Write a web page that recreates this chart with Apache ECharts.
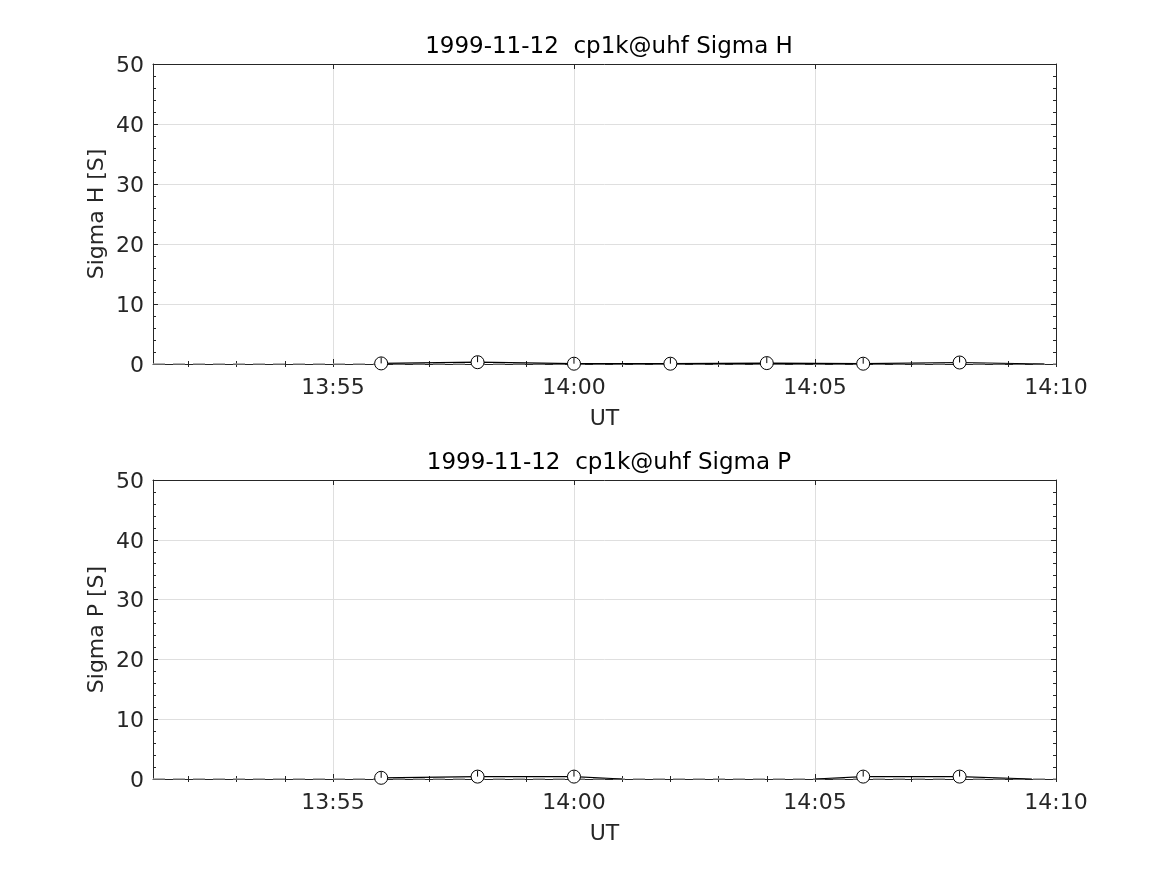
<!DOCTYPE html>
<html>
<head>
<meta charset="utf-8">
<script src="https://cdn.jsdelivr.net/npm/echarts@6/dist/echarts.min.js"></script>
<style>
html,body{margin:0;padding:0;background:#fff;}
#c{width:1167px;height:875px;}
</style>
</head>
<body>
<div id="c"></div>
<script>
// ---- data ----
var dateStr = '1999-11-12';
var xStart = '13:51:16';
var xEnd = '14:10';
var majorTickLabels = ['13:55', '14:00', '14:05', '14:10'];
var minorTickTimes = ['13:52','13:53','13:54','13:55','13:56','13:57','13:58','13:59','14:00','14:01','14:02','14:03','14:04','14:05','14:06','14:07','14:08','14:09','14:10'];
var yTicks = [0, 10, 20, 30, 40, 50];

// Sigma H
var timesH = ['13:56', '13:58', '14:00', '14:02', '14:04', '14:06', '14:08'];
var sigmaH = [0.1, 0.3, 0.05, 0.05, 0.15, 0.05, 0.25];
var errH = [1.0, 1.0, 1.0, 1.0, 1.0, 1.0, 1.0];
var lineTimesH = ['13:56', '13:58', '14:00', '14:02', '14:04', '14:06', '14:08', '14:09:45'];
var lineSigmaH = [0.1, 0.3, 0.05, 0.05, 0.15, 0.05, 0.25, 0];

// Sigma P
var timesP = ['13:56', '13:58', '14:00', '14:06', '14:08'];
var sigmaP = [0.2, 0.4, 0.4, 0.4, 0.4];
var errP = [1.0, 1.0, 1.0, 1.0, 1.0];
var lineTimesP = ['13:56', '13:58', '14:00', '14:01', '14:03', '14:05', '14:06', '14:08', '14:09:30'];
var lineSigmaP = [0.2, 0.4, 0.4, 0, null, 0, 0.4, 0.4, 0];

// ---- helpers ----
function toMin(s) {
  var p = s.split(':').map(Number);
  return p[0] * 60 + p[1] + (p[2] || 0) / 60;
}
function fmt(v) {
  var h = Math.floor(v / 60 + 1e-9), m = Math.round(v - h * 60);
  return h + ':' + (m < 10 ? '0' : '') + m;
}
var XMIN = toMin(xStart), XMAX = toMin(xEnd);
var majorVals = majorTickLabels.map(toMin);
var minorVals = minorTickTimes.map(toMin);

var FONT = 'DejaVu Sans';
var AX = '#262626';
var GRIDC = '#dfdfdf';

var grids = [
  {left: 153, right: 111, top: 64, height: 300},
  {left: 153, right: 111, top: 480, height: 299}
];

function xAxesFor(g) {
  var base = {type: 'value', gridIndex: g, min: XMIN, max: XMAX};
  return [
    Object.assign({}, base, {
      position: 'bottom',
      name: 'UT', nameLocation: 'middle', nameGap: 44,
      nameTextStyle: {fontFamily: FONT, fontSize: 22, color: AX},
      axisLine: {show: true, onZero: false, lineStyle: {color: AX, width: 1}},
      axisTick: {show: true, inside: true, length: 5, customValues: majorVals, lineStyle: {color: AX}},
      axisLabel: {show: true, customValues: majorVals, formatter: fmt, margin: 13,
        fontFamily: FONT, fontSize: 22, color: AX},
      splitLine: {show: true, lineStyle: {color: GRIDC, width: 1}}
    }),
    Object.assign({}, base, {
      position: 'bottom',
      axisLine: {show: false},
      axisTick: {show: true, inside: true, length: 3, customValues: minorVals, lineStyle: {color: AX}},
      axisLabel: {show: false},
      splitLine: {show: false}
    }),
    Object.assign({}, base, {
      position: 'top',
      axisLine: {show: true, onZero: false, lineStyle: {color: AX, width: 1}},
      axisTick: {show: true, inside: true, length: 5, customValues: majorVals, lineStyle: {color: AX}},
      axisLabel: {show: false},
      splitLine: {show: false}
    }),
    Object.assign({}, base, {
      position: 'top',
      axisLine: {show: false},
      axisTick: {show: true, inside: true, length: 3, customValues: minorVals, lineStyle: {color: AX}},
      axisLabel: {show: false},
      splitLine: {show: false}
    })
  ];
}

function yAxesFor(g, name) {
  var base = {type: 'value', gridIndex: g, min: yTicks[0], max: yTicks[yTicks.length - 1], interval: yTicks[1] - yTicks[0]};
  return [
    Object.assign({}, base, {
      position: 'left',
      name: name, nameLocation: 'middle', nameGap: 45, nameMoveOverlap: false,
      nameTextStyle: {fontFamily: FONT, fontSize: 22, color: AX},
      axisLine: {show: true, onZero: false, lineStyle: {color: AX}},
      axisTick: {show: true, inside: true, length: 5, lineStyle: {color: AX}},
      minorTick: {show: true, splitNumber: 5, length: 3, lineStyle: {color: AX}},
      axisLabel: {show: true, margin: 9, fontFamily: FONT, fontSize: 22, color: AX,
        formatter: function (v) { return '{a|' + v + '}'; },
        rich: {a: {fontFamily: FONT, fontSize: 22, color: AX, padding: [4, 0, 0, 0]}}},
      splitLine: {show: true, lineStyle: {color: GRIDC, width: 1}}
    }),
    Object.assign({}, base, {
      position: 'right',
      axisLine: {show: true, onZero: false, lineStyle: {color: AX}},
      axisTick: {show: true, inside: true, length: 5, lineStyle: {color: AX}},
      minorTick: {show: true, splitNumber: 5, length: 3, lineStyle: {color: AX}},
      axisLabel: {show: false},
      splitLine: {show: false}
    })
  ];
}

var xAxis = xAxesFor(0).concat(xAxesFor(1));
var yAxis = yAxesFor(0, 'Sigma H [S]').concat(yAxesFor(1, 'Sigma P [S]'));

function seriesFor(g, xi, yi, times, vals, errs, lTimes, lVals) {
  var pts = times.map(function (t, i) { return [toMin(t), vals[i]]; });
  var linePts = lTimes.map(function (t, i) { return [toMin(t), lVals[i]]; });
  var errPts = times.map(function (t, i) { return [toMin(t), vals[i], errs[i]]; });
  return [
    {
      type: 'line', xAxisIndex: xi, yAxisIndex: yi, silent: true,
      data: [[XMIN, 0], [XMAX, 0]], symbol: 'none',
      lineStyle: {color: '#9a9a9a', width: 1.5, type: [12, 8]}, z: 3
    },
    {
      type: 'line', xAxisIndex: xi, yAxisIndex: yi, silent: true,
      data: linePts, symbol: 'none', connectNulls: false,
      lineStyle: {color: '#000', width: 1.2}, z: 4
    },
    {
      type: 'scatter', xAxisIndex: xi, yAxisIndex: yi, silent: true,
      data: pts, symbol: 'circle', symbolSize: 13,
      itemStyle: {color: '#fff', borderColor: '#000', borderWidth: 1, opacity: 1}, z: 5
    },
    {
      type: 'custom', xAxisIndex: xi, yAxisIndex: yi, silent: true, z: 6,
      data: errPts,
      renderItem: function (params, api) {
        var x = api.value(0), y = api.value(1), e = api.value(2);
        var p1 = api.coord([x, y]), p2 = api.coord([x, y + e]);
        return {type: 'line', shape: {x1: p1[0], y1: p1[1], x2: p2[0], y2: p2[1]},
          style: {stroke: '#000', lineWidth: 1}};
      }
    }
  ];
}

var series = seriesFor(0, 0, 0, timesH, sigmaH, errH, lineTimesH, lineSigmaH)
  .concat(seriesFor(1, 4, 2, timesP, sigmaP, errP, lineTimesP, lineSigmaP));

var chart = echarts.init(document.getElementById('c'), null, {renderer: 'canvas'});
chart.setOption({
  backgroundColor: '#fff',
  animation: false,
  title: [
    {text: dateStr + '  cp1k@uhf Sigma H', left: 604, top: 31, textAlign: 'center',
      textStyle: {fontFamily: FONT, fontSize: 23, fontWeight: 'normal', color: '#000'}},
    {text: dateStr + '  cp1k@uhf Sigma P', left: 604, top: 447, textAlign: 'center',
      textStyle: {fontFamily: FONT, fontSize: 23, fontWeight: 'normal', color: '#000'}}
  ],
  grid: grids,
  xAxis: xAxis,
  yAxis: yAxis,
  series: series
});
</script>
</body>
</html>
